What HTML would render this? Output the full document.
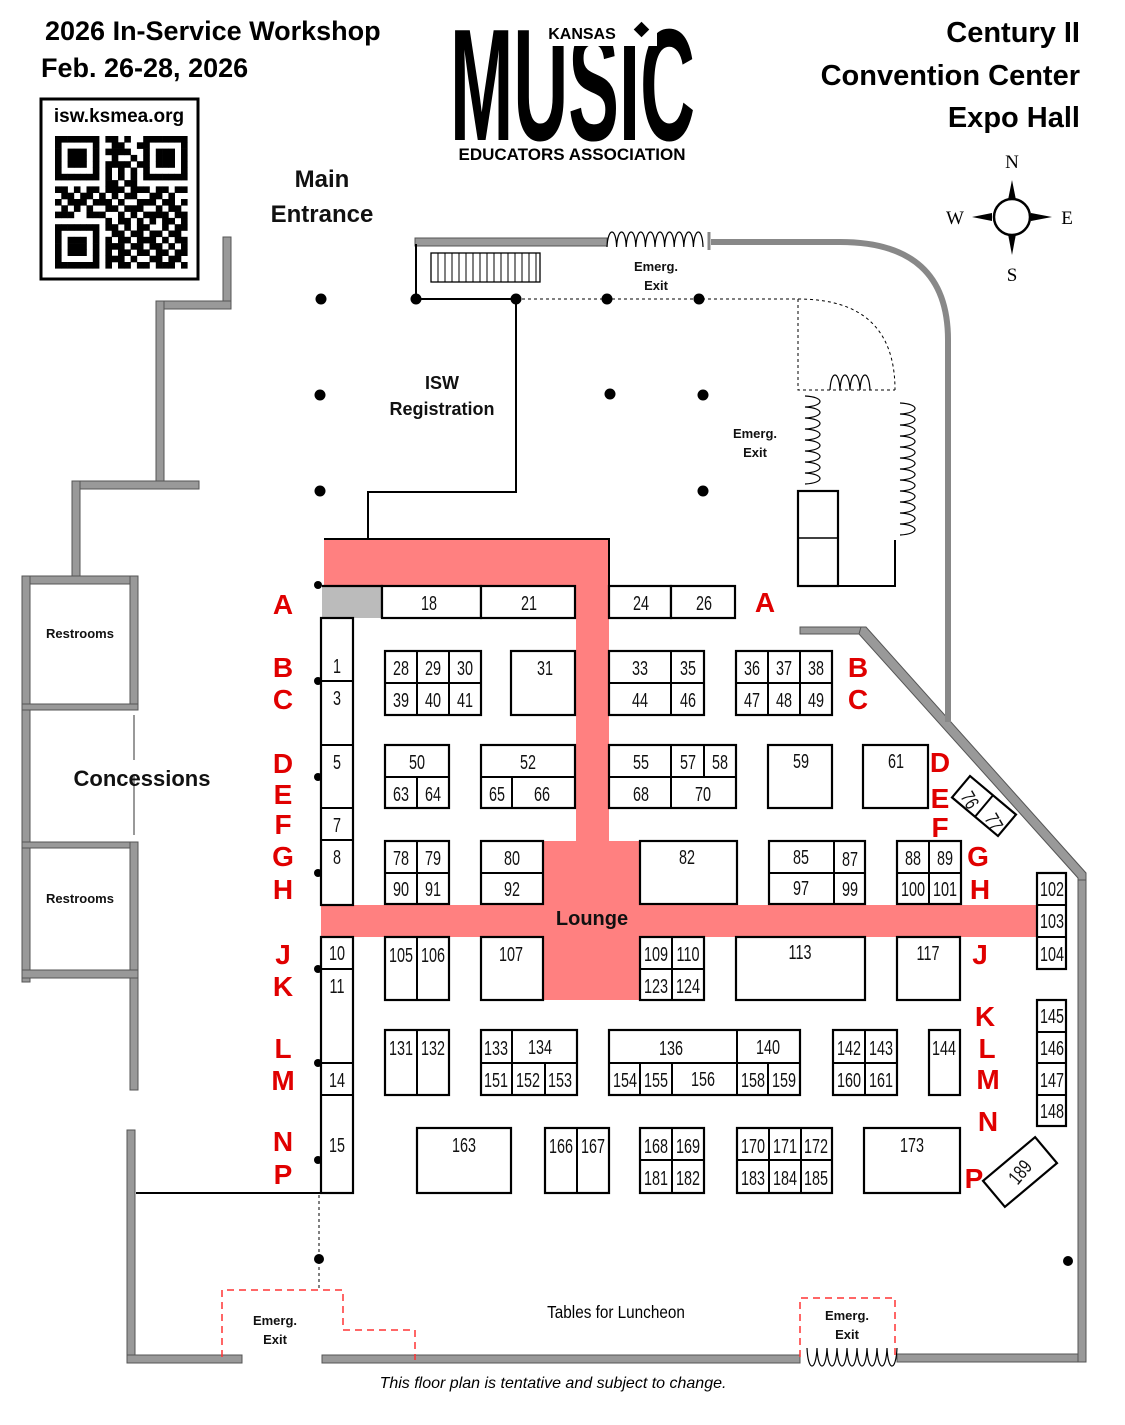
<!DOCTYPE html>
<html><head><meta charset="utf-8"><style>
html,body{margin:0;padding:0;background:#fff;}
svg{display:block}
.n{font-family:"Liberation Sans",sans-serif;font-size:20px;text-anchor:middle;fill:#111}
.b{stroke:#000;stroke-width:2.2;fill:#fff}
.l{stroke:#000;stroke-width:2;fill:none}
.r{font-family:"Liberation Sans",sans-serif;font-weight:bold;font-size:28px;fill:#e00000;text-anchor:middle}
.w{fill:#999;stroke:#555;stroke-width:1}
.s{fill:none;stroke:#000;stroke-width:1.2}
.t{font-family:"Liberation Sans",sans-serif;font-weight:bold;fill:#111;text-anchor:middle}
</style></head><body>
<svg width="1125" height="1425" viewBox="0 0 1125 1425" xmlns="http://www.w3.org/2000/svg">
<!-- header -->
<text x="45" y="40" font-family="Liberation Sans, sans-serif" font-weight="bold" font-size="27">2026 In-Service Workshop</text>
<text x="41" y="77" font-family="Liberation Sans, sans-serif" font-weight="bold" font-size="27">Feb. 26-28, 2026</text>
<g font-family="Liberation Sans, sans-serif" font-weight="bold" font-size="29" text-anchor="end">
<text x="1080" y="42">Century II</text>
<text x="1080" y="85">Convention Center</text>
<text x="1080" y="127">Expo Hall</text>
</g>
<!-- QR -->
<rect x="41" y="99" width="157" height="180" fill="#fff" stroke="#000" stroke-width="3"/>
<text x="119" y="122" font-family="Liberation Sans, sans-serif" font-weight="bold" font-size="19" text-anchor="middle">isw.ksmea.org</text>
<g id="qr"></g>
<!-- logo -->
<text x="450" y="140" font-family="Liberation Sans, sans-serif" font-weight="bold" font-size="110" textLength="245" lengthAdjust="spacingAndGlyphs" transform="matrix(1,0,0,1.45,0,-63)">MUSIC</text>
<rect x="537" y="18" width="120" height="28" fill="#fff"/>
<text x="582" y="39" font-family="Liberation Sans, sans-serif" font-weight="bold" font-size="16" text-anchor="middle">KANSAS</text>
<rect x="636" y="24" width="11" height="11" transform="rotate(45 641.5 29.5)" fill="#000"/>
<rect x="440" y="142" width="270" height="24" fill="#fff"/>
<text x="572" y="160" font-family="Liberation Sans, sans-serif" font-weight="bold" font-size="17" text-anchor="middle">EDUCATORS ASSOCIATION</text>
<!-- compass -->
<g fill="#000">
<path d="M1012,180 L1016,200 L1008,200 Z"/><path d="M1012,255 L1016,234 L1008,234 Z"/>
<path d="M972,217 L992,213 L992,221 Z"/><path d="M1052,217 L1031,213 L1031,221 Z"/>
</g>
<circle cx="1012" cy="217" r="18" fill="#fff" stroke="#000" stroke-width="2.5"/>
<g font-family="Liberation Serif, serif" font-size="19" text-anchor="middle">
<text x="1012" y="168">N</text><text x="1012" y="281">S</text><text x="955" y="224">W</text><text x="1067" y="224">E</text>
</g>
<!-- labels -->
<text class="t" x="322" y="187" font-size="24">Main</text>
<text class="t" x="322" y="222" font-size="24">Entrance</text>
<text class="t" x="442" y="389" font-size="18">ISW</text>
<text class="t" x="442" y="415" font-size="18">Registration</text>
<text class="t" x="656" y="271" font-size="13">Emerg.</text><text class="t" x="656" y="290" font-size="13">Exit</text>
<text class="t" x="755" y="438" font-size="13">Emerg.</text><text class="t" x="755" y="457" font-size="13">Exit</text>
<!-- left walls -->
<g class="w">
<rect x="223" y="237" width="8" height="70"/>
<rect x="156" y="301" width="75" height="8"/>
<rect x="156" y="301" width="8" height="184"/>
<rect x="72" y="481" width="127" height="8"/>
<rect x="72" y="481" width="8" height="98"/>
<rect x="22" y="576" width="116" height="8"/>
<rect x="22" y="576" width="8" height="406"/>
<rect x="130" y="576" width="8" height="130"/>
<rect x="22" y="704" width="116" height="6"/>
<rect x="22" y="842" width="116" height="6"/>
<rect x="130" y="842" width="8" height="248"/>
<rect x="22" y="970" width="116" height="8"/>
<rect x="127" y="1130" width="8" height="233"/>
<rect x="127" y="1355" width="115" height="8"/>
<rect x="322" y="1355" width="478" height="8"/>
<rect x="897" y="1354" width="188" height="8"/>
<rect x="1078" y="875" width="8" height="487"/>
<rect x="800" y="627" width="64" height="7"/>
<path d="M861,627 L866,627 L1086,873 L1086,880 L1078,880 L1078,878 L859,634 Z"/>
<rect x="415" y="238" width="192" height="8"/>
</g>
<line x1="134" y1="715" x2="134" y2="760" stroke="#999" stroke-width="2"/>
<line x1="134" y1="775" x2="134" y2="835" stroke="#999" stroke-width="2"/>
<!-- top right curve wall -->
<line x1="709" y1="232" x2="709" y2="250" stroke="#888" stroke-width="3"/>
<path d="M711,242 L840,242 Q948,242 948,340 L948,722" fill="none" stroke="#888" stroke-width="6"/>
<text class="t" x="80" y="638" font-size="13" font-weight="normal">Restrooms</text>
<text class="t" x="80" y="903" font-size="13" font-weight="normal">Restrooms</text>
<text class="t" x="142" y="786" font-size="22">Concessions</text>
<!-- stairs -->
<rect x="431" y="253" width="109" height="29" fill="#fff" stroke="#000" stroke-width="1.3"/>
<path d="M438,253v29M445,253v29M452,253v29M459,253v29M466,253v29M473,253v29M480,253v29M487,253v29M494,253v29M501,253v29M508,253v29M515,253v29M522,253v29M529,253v29M536,253v29" stroke="#000" stroke-width="1"/>
<!-- registration lines -->
<path d="M416,244 V299 H516 V492 H368 V539" class="l"/>
<path d="M516,299 H798 M798,299 V390 H895 M798,299 Q895,299 895,390" fill="none" stroke="#000" stroke-width="1" stroke-dasharray="3,3"/>
<!-- springs -->
<path class="s" d="M607,247 c1,-20 9,-20 9.6,0 c1,-20 9,-20 9.6,0 c1,-20 9,-20 9.6,0 c1,-20 9,-20 9.6,0 c1,-20 9,-20 9.6,0 c1,-20 9,-20 9.6,0 c1,-20 9,-20 9.6,0 c1,-20 9,-20 9.6,0 c1,-20 9,-20 9.6,0 c1,-20 9,-20 9.6,0"/>
<path class="s" d="M830,390 c1,-20 9,-20 10,0 c1,-20 9,-20 10,0 c1,-20 9,-20 10,0 c1,-20 9,-20 10,0"/>
<path class="s" d="M805,396 c20,1 20,10 0,11 c20,1 20,10 0,11 c20,1 20,10 0,11 c20,1 20,10 0,11 c20,1 20,10 0,11 c20,1 20,10 0,11 c20,1 20,10 0,11 c20,1 20,10 0,11"/>
<path class="s" d="M900,403 c20,1 20,10 0,11 c20,1 20,10 0,11 c20,1 20,10 0,11 c20,1 20,10 0,11 c20,1 20,10 0,11 c20,1 20,10 0,11 c20,1 20,10 0,11 c20,1 20,10 0,11 c20,1 20,10 0,11 c20,1 20,10 0,11 c20,1 20,10 0,11 c20,1 20,10 0,11"/>
<path class="s" d="M807,1348 c1,24 9,24 10,0 c1,24 9,24 10,0 c1,24 9,24 10,0 c1,24 9,24 10,0 c1,24 9,24 10,0 c1,24 9,24 10,0 c1,24 9,24 10,0 c1,24 9,24 10,0 c1,24 9,24 10,0"/>
<rect x="798" y="491" width="40" height="95" class="b" stroke-width="1.5"/>
<line x1="798" y1="538" x2="838" y2="538" stroke="#000" stroke-width="1.5"/>
<path d="M838,586 H895 V540" class="l" stroke-width="1.5"/>
<!-- dots -->
<g fill="#000">
<circle cx="321" cy="299" r="5.5"/><circle cx="320" cy="395" r="5.5"/><circle cx="320" cy="491" r="5.5"/>
<circle cx="416" cy="299" r="5.5"/><circle cx="516" cy="299" r="5.5"/><circle cx="607" cy="299" r="5.5"/><circle cx="699" cy="299" r="5.5"/>
<circle cx="610" cy="394" r="5.5"/><circle cx="703" cy="395" r="5.5"/><circle cx="703" cy="491" r="5.5"/>
<circle cx="319" cy="1259" r="5"/><circle cx="1068" cy="1261" r="5"/>
<circle cx="318" cy="585" r="4"/><circle cx="318" cy="681" r="4"/><circle cx="318" cy="777" r="4"/><circle cx="318" cy="873" r="4"/><circle cx="318" cy="969" r="4"/><circle cx="318" cy="1063" r="4"/><circle cx="318" cy="1160" r="4"/>
</g>
<!-- pink aisles -->
<g fill="#ff8080">
<rect x="324" y="539" width="285" height="47"/>
<rect x="576" y="539" width="33" height="302"/>
<rect x="543" y="841" width="97" height="159"/>
<rect x="321" y="905" width="716" height="32"/>
</g>
<path d="M324,539 H609 V586" class="l"/>
<text class="t" x="592" y="925" font-size="20">Lounge</text>
<!-- booths -->
<g class="b">
<rect x="322" y="586" width="60" height="32" fill="#bbb" stroke="none"/>
<path d="M322,586 H382 V618" fill="none"/>
<rect x="382" y="586" width="99" height="32"/><rect x="481" y="586" width="94" height="32"/>
<rect x="609" y="586" width="62" height="32"/><rect x="671" y="586" width="64" height="32"/>
<rect x="321" y="618" width="32" height="287"/><rect x="321" y="937" width="32" height="256"/>
<rect x="385" y="651" width="96" height="64"/><rect x="511" y="651" width="64" height="64"/>
<rect x="609" y="651" width="95" height="64"/><rect x="736" y="651" width="96" height="64"/>
<rect x="385" y="745" width="64" height="63"/><rect x="481" y="745" width="94" height="63"/>
<rect x="609" y="745" width="127" height="63"/><rect x="768" y="745" width="64" height="63"/><rect x="863" y="745" width="65" height="63"/>
<rect x="385" y="841" width="64" height="63"/><rect x="481" y="841" width="62" height="63"/><rect x="640" y="841" width="97" height="63"/>
<rect x="769" y="841" width="96" height="63"/><rect x="897" y="841" width="64" height="63"/>
<rect x="385" y="937" width="64" height="63"/><rect x="481" y="937" width="62" height="63"/><rect x="640" y="937" width="64" height="63"/>
<rect x="736" y="937" width="129" height="63"/><rect x="897" y="937" width="63" height="63"/>
<rect x="1037" y="873" width="29" height="96"/><rect x="1037" y="1000" width="29" height="126"/>
<rect x="385" y="1030" width="64" height="65"/><rect x="481" y="1030" width="96" height="65"/><rect x="609" y="1030" width="191" height="65"/>
<rect x="833" y="1030" width="64" height="65"/><rect x="929" y="1030" width="31" height="65"/>
<rect x="417" y="1128" width="94" height="65"/><rect x="545" y="1128" width="64" height="65"/><rect x="640" y="1128" width="64" height="65"/>
<rect x="737" y="1128" width="95" height="65"/><rect x="864" y="1128" width="96" height="65"/>
</g>
<path class="l" d="
M321,681H353 M321,745H353 M321,808H353 M321,840H353 M321,969H353 M321,1063H353 M321,1095H353
M417,651V715 M449,651V715 M385,683H481
M609,683H704 M671,651V715
M768,651V715 M800,651V715 M736,683H832
M385,777H449 M417,777V808
M481,777H575 M512,777V808
M609,777H736 M671,745V808 M704,745V777
M385,873H449 M417,841V904 M481,873H543
M769,873H865 M834,841V904 M897,873H961 M929,841V904
M417,937V1000 M640,969H704 M672,937V1000
M1037,905H1066 M1037,937H1066 M1037,1032H1066 M1037,1063H1066 M1037,1095H1066
M417,1030V1095 M481,1063H577 M512,1030V1095 M545,1063V1095
M609,1063H800 M737,1030V1095 M640,1063V1095 M672,1063V1095 M768,1063V1095
M833,1063H897 M865,1030V1095
M577,1128V1193 M640,1160H704 M672,1128V1193 M737,1160H832 M769,1128V1193 M801,1128V1193
"/>
<g class="b"><g transform="rotate(40 984 806)"><rect x="954" y="792" width="60" height="28"/><line x1="984" y1="792" x2="984" y2="820" stroke="#000" stroke-width="2"/></g>
<rect x="986" y="1155" width="68" height="34" transform="rotate(-40 1020 1172)"/></g>
<g class="n" id="nums">
<text x="429" y="610">18</text><text x="529" y="610">21</text><text x="641" y="610">24</text><text x="704" y="610">26</text>
<text x="337" y="673">1</text><text x="337" y="705">3</text><text x="337" y="769">5</text><text x="337" y="832">7</text><text x="337" y="864">8</text>
<text x="337" y="960">10</text><text x="337" y="993">11</text><text x="337" y="1087">14</text><text x="337" y="1152">15</text>
<text x="401" y="675">28</text><text x="433" y="675">29</text><text x="465" y="675">30</text>
<text x="401" y="707">39</text><text x="433" y="707">40</text><text x="465" y="707">41</text>
<text x="545" y="675">31</text><text x="640" y="675">33</text><text x="688" y="675">35</text><text x="640" y="707">44</text><text x="688" y="707">46</text>
<text x="752" y="675">36</text><text x="784" y="675">37</text><text x="816" y="675">38</text>
<text x="752" y="707">47</text><text x="784" y="707">48</text><text x="816" y="707">49</text>
<text x="417" y="769">50</text><text x="401" y="801">63</text><text x="433" y="801">64</text>
<text x="528" y="769">52</text><text x="497" y="801">65</text><text x="542" y="801">66</text>
<text x="641" y="769">55</text><text x="688" y="769">57</text><text x="720" y="769">58</text><text x="641" y="801">68</text><text x="703" y="801">70</text>
<text x="801" y="768">59</text><text x="896" y="768">61</text>
<text x="401" y="865">78</text><text x="433" y="865">79</text><text x="401" y="896">90</text><text x="433" y="896">91</text>
<text x="512" y="865">80</text><text x="512" y="896">92</text><text x="687" y="864">82</text>
<text x="801" y="864">85</text><text x="850" y="866">87</text><text x="801" y="895">97</text><text x="850" y="896">99</text>
<text x="913" y="865">88</text><text x="945" y="865">89</text><text x="913" y="896">100</text><text x="945" y="896">101</text>
<text x="401" y="962">105</text><text x="433" y="962">106</text><text x="511" y="961">107</text>
<text x="656" y="961">109</text><text x="688" y="961">110</text><text x="656" y="993">123</text><text x="688" y="993">124</text>
<text x="800" y="959">113</text><text x="928" y="960">117</text>
<text x="1052" y="896">102</text><text x="1052" y="928">103</text><text x="1052" y="961">104</text>
<text x="1052" y="1023">145</text><text x="1052" y="1055">146</text><text x="1052" y="1087">147</text><text x="1052" y="1118">148</text>
<text x="401" y="1055">131</text><text x="433" y="1055">132</text>
<text x="496" y="1055">133</text><text x="540" y="1054">134</text><text x="496" y="1087">151</text><text x="528" y="1087">152</text><text x="560" y="1087">153</text>
<text x="671" y="1055">136</text><text x="768" y="1054">140</text>
<text x="625" y="1087">154</text><text x="656" y="1087">155</text><text x="703" y="1086">156</text><text x="753" y="1087">158</text><text x="784" y="1087">159</text>
<text x="849" y="1055">142</text><text x="881" y="1055">143</text><text x="849" y="1087">160</text><text x="881" y="1087">161</text>
<text x="944" y="1055">144</text>
<text x="464" y="1152">163</text><text x="561" y="1153">166</text><text x="593" y="1153">167</text>
<text x="656" y="1153">168</text><text x="688" y="1153">169</text><text x="656" y="1185">181</text><text x="688" y="1185">182</text>
<text x="753" y="1153">170</text><text x="785" y="1153">171</text><text x="816" y="1153">172</text>
<text x="753" y="1185">183</text><text x="785" y="1185">184</text><text x="816" y="1185">185</text>
<text x="912" y="1152">173</text>
<text x="970" y="807" transform="rotate(60 970 800)">76</text><text x="994" y="829" transform="rotate(60 994 822)">77</text>
<text x="1020" y="1179" transform="rotate(-50 1020 1172)">189</text>
</g>
<!-- row letters -->
<g class="r">
<text x="283" y="614">A</text><text x="283" y="677">B</text><text x="283" y="709">C</text><text x="283" y="773">D</text><text x="283" y="804">E</text><text x="283" y="834">F</text><text x="283" y="866">G</text><text x="283" y="899">H</text><text x="283" y="964">J</text><text x="283" y="996">K</text><text x="283" y="1058">L</text><text x="283" y="1090">M</text><text x="283" y="1151">N</text><text x="283" y="1184">P</text>
<text x="765" y="612">A</text><text x="858" y="677">B</text><text x="858" y="709">C</text><text x="940" y="772">D</text><text x="940" y="808">E</text><text x="940" y="837">F</text><text x="978" y="866">G</text><text x="980" y="899">H</text><text x="980" y="964">J</text><text x="985" y="1026">K</text><text x="987" y="1058">L</text><text x="988" y="1089">M</text><text x="988" y="1131">N</text><text x="974" y="1188">P</text>
</g>
<!-- bottom -->
<line x1="136" y1="1193" x2="321" y2="1193" stroke="#000" stroke-width="2"/>
<line x1="319" y1="1195" x2="319" y2="1290" stroke="#000" stroke-width="1" stroke-dasharray="3,3"/>
<path d="M222,1357 V1290 H343 V1330 H415 V1360 M800,1357 V1298 H895 V1357" fill="none" stroke="#f33" stroke-width="1.5" stroke-dasharray="7,5"/>
<text class="t" x="275" y="1325" font-size="13">Emerg.</text><text class="t" x="275" y="1344" font-size="13">Exit</text>
<text class="t" x="847" y="1320" font-size="13">Emerg.</text><text class="t" x="847" y="1339" font-size="13">Exit</text>
<text x="616" y="1318" font-family="Liberation Sans, sans-serif" font-size="18" text-anchor="middle" transform="translate(616,0) scale(0.85,1) translate(-616,0)">Tables for Luncheon</text>
<text x="553" y="1388" font-family="Liberation Sans, sans-serif" font-style="italic" font-size="16" text-anchor="middle">This floor plan is tentative and subject to change.</text>
</svg>
<script>
var rows=["111111101101001111111","100000100110011000001","101110101111001011101","101110100100101011101","101110101111011011101","100000101010101000001","111111101010101111111","000000001101100000000","110101101110111011011","011011010101100110100","101110111010011101101","010101001101110010110","111001110010101111011","000000001011010101101","111111101101011001011","100000100110110110110","101110101011011101011","101110101110110110101","101110101011011011011","100000101110100110110","111111101011011011101"];
var g=document.getElementById('qr'),s=6.3,h='';
for(var r=0;r<21;r++)for(var c=0;c<21;c++)if(rows[r][c]=='1')h+='<rect x="'+(55+c*s)+'" y="'+(136+r*s)+'" width="'+(s+0.3)+'" height="'+(s+0.3)+'"/>';
g.innerHTML=h;
var ts=document.querySelectorAll('#nums text');
for(var i=0;i<ts.length;i++){var t=ts[i],x=t.getAttribute('x'),o=t.getAttribute('transform')||'';t.setAttribute('transform',o+' translate('+x+',0) scale(0.72,1) translate('+(-x)+',0)');}
</script>
</body></html>
